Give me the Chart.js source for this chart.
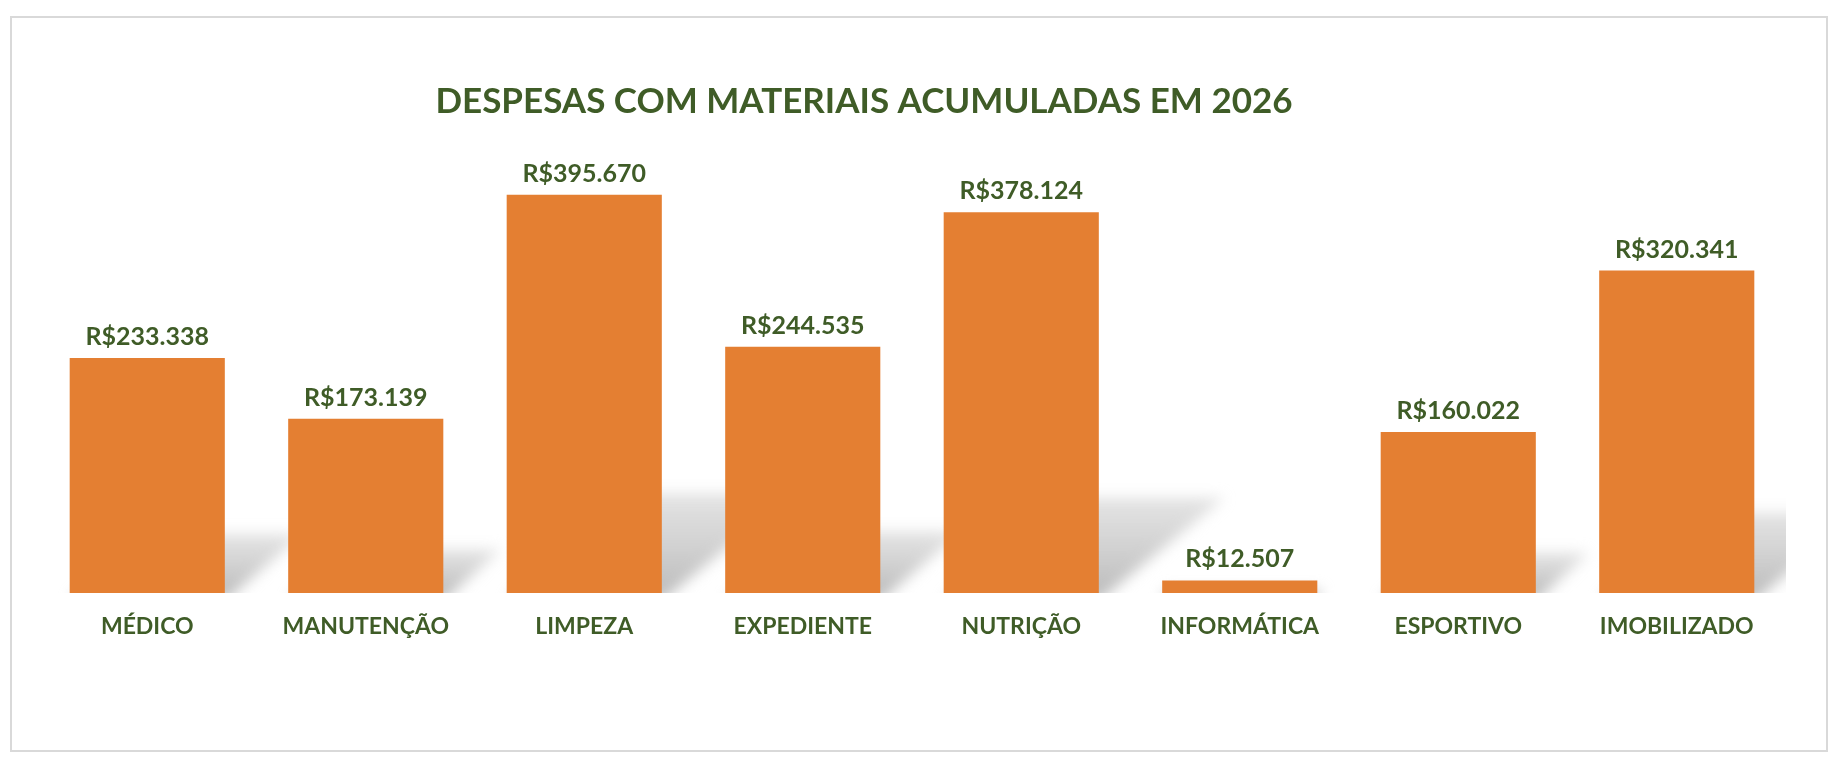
<!DOCTYPE html>
<html>
<head>
    <meta charset="utf-8">
    <title>Despesas</title>
    <script src="https://cdn.jsdelivr.net/npm/chart.js"></script>
    <style>
        html, body { margin: 0; padding: 0; background: #fff; }
        #wrap { position: relative; width: 1838px; height: 766px; }
    </style>
</head>
<body>
    <div id="wrap"><canvas id="myChart" width="1838" height="766"></canvas></div>
    <script>
        const chartTitle = 'DESPESAS COM MATERIAIS ACUMULADAS EM 2026';
        const categories = ['MÉDICO', 'MANUTENÇÃO', 'LIMPEZA', 'EXPEDIENTE', 'NUTRIÇÃO', 'INFORMÁTICA', 'ESPORTIVO', 'IMOBILIZADO'];
        const despesas = [233338, 173139, 395670, 244535, 378124, 12507, 160022, 320341];

        const orange = '#e47f32';
        const green = '#3f5c27';
        const fontName = 'Lato, "Open Sans", sans-serif';

        function formatBRL(v) {
            return 'R$' + String(v).replace(/\B(?=(\d{3})+(?!\d))/g, '.');
        }

        // frame round the whole chart
        const framePlugin = {
            id: 'frame',
            beforeDraw(chart) {
                const c = chart.ctx;
                c.save();
                c.fillStyle = '#fff';
                c.fillRect(0, 0, chart.width, chart.height);
                c.strokeStyle = '#d9d9d9';
                c.lineWidth = 2;
                c.strokeRect(11, 17, 1816, 734);
                c.restore();
            }
        };

        // perspective shadow behind each bar
        const shadowPlugin = {
            id: 'barShadow',
            beforeDatasetsDraw(chart) {
                const c = chart.ctx;
                const area = chart.chartArea;
                const meta = chart.getDatasetMeta(0);
                c.save();
                c.beginPath();
                c.rect(area.left, area.top - 50, area.right - area.left, area.bottom - area.top + 50);
                c.clip();
                c.filter = 'blur(7px)';
                meta.data.forEach(bar => {
                    const h = bar.base - bar.y;
                    const half = bar.width / 2;
                    const sh = h * 0.25;
                    const dx = h * 0.33;
                    const g = c.createLinearGradient(0, bar.base, 0, bar.base - sh);
                    g.addColorStop(0, 'rgba(185,185,185,0.95)');
                    g.addColorStop(1, 'rgba(205,205,205,0.55)');
                    c.fillStyle = g;
                    c.beginPath();
                    c.moveTo(bar.x - half, bar.base + 8);
                    c.lineTo(bar.x + half, bar.base + 8);
                    c.lineTo(bar.x + half + dx, bar.base - sh);
                    c.lineTo(bar.x - half + dx, bar.base - sh);
                    c.closePath();
                    c.fill();
                });
                c.restore();
            }
        };

        // value labels and title
        const labelPlugin = {
            id: 'valueLabels',
            afterDatasetsDraw(chart) {
                const c = chart.ctx;
                const meta = chart.getDatasetMeta(0);
                c.save();
                c.fillStyle = green;
                c.textAlign = 'center';
                c.textBaseline = 'alphabetic';
                c.font = 'bold 25px ' + fontName;
                meta.data.forEach((bar, i) => {
                    c.fillText(formatBRL(despesas[i]), bar.x, bar.y - 13);
                });
                c.font = 'bold 35px ' + fontName;
                c.fillText(chartTitle, 864, 113);
                c.restore();
            }
        };

        const ctx = document.getElementById('myChart').getContext('2d');
        new Chart(ctx, {
            type: 'bar',
            data: {
                labels: categories,
                datasets: [{
                    label: 'Despesas',
                    data: despesas,
                    backgroundColor: orange,
                    borderWidth: 0,
                    barPercentage: 0.71,
                    categoryPercentage: 1
                }]
            },
            options: {
                responsive: false,
                animation: false,
                devicePixelRatio: 1,
                layout: {
                    padding: { top: 140, left: 38, right: 52, bottom: 113 }
                },
                plugins: {
                    legend: { display: false },
                    tooltip: { enabled: false },
                    title: { display: false }
                },
                scales: {
                    x: {
                        grid: { display: false, drawTicks: false },
                        border: { display: false },
                        ticks: {
                            color: green,
                            font: { family: fontName, size: 23, weight: 'bold' },
                            padding: 20,
                            maxRotation: 0,
                            autoSkip: false
                        },
                        afterFit(scale) { scale.height = 60; }
                    },
                    y: {
                        display: false,
                        min: 0,
                        max: 450000
                    }
                }
            },
            plugins: [framePlugin, shadowPlugin, labelPlugin]
        });
    </script>
</body>
</html>
